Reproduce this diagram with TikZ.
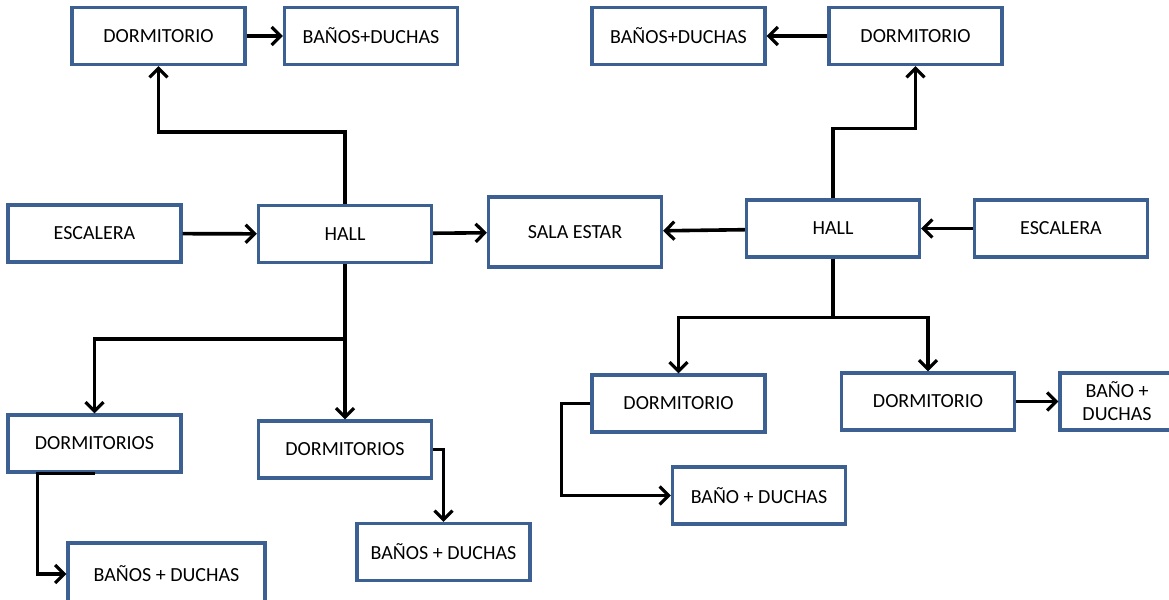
\documentclass[tikz,border=0pt]{standalone}
\usepackage{fontspec}
\setmainfont{Carlito}
\usepackage{xcolor}
\usepackage{tikz}
\usetikzlibrary{arrows.meta,positioning,calc}

\definecolor{boxblue}{RGB}{60,96,145}

\begin{document}
\begin{tikzpicture}[x=0.5pt, y=-0.5pt,
        box/.style={rectangle, draw=boxblue, line width=1.6pt, fill=white,
            minimum width=86.5pt, minimum height=28.5pt, inner sep=1pt,
            font=\fontsize{10}{11.5}\selectfont, align=center},
        arr/.style={-{Straight Barb[length=4.5pt, width=9pt, line width=1.6pt]}, line width=1.8pt}]
        \useasboundingbox (0,0) rectangle (1169,600);

        % Row 1
        \node (dormL) [box] at (158.5,36) {DORMITORIO};
        \node (banL) [box] at (371,36) {BAÑOS+DUCHAS};
        \node (banR) [box] at (678.5,36) {BAÑOS+DUCHAS};
        \node (dormR) [box] at (915.5,36) {DORMITORIO};

        % Row 2
        \node (escL) [box] at (94.5,233.5) {ESCALERA};
        \node (hallL) [box] at (345,234) {HALL};
        \node (sala) [box, minimum height=35pt] at (575,232) {SALA ESTAR};
        \node (hallR) [box] at (833,228.5) {HALL};
        \node (escR) [box] at (1061,228.5) {ESCALERA};

        % Row 3
        \node (dormsL) [box] at (94.5,443.5) {DORMITORIOS};
        \node (dormsM) [box] at (345,449.5) {DORMITORIOS};
        \node (dormR1) [box] at (678.5,403.5) {DORMITORIO};
        \node (dormR2) [box] at (928,401.5) {DORMITORIO};
        \node (banoR2) [box, minimum width=57pt] at (1117,401.5) {BAÑO +\\DUCHAS};

        % Row 4
        \node (banosL) [box, minimum width=98.5pt, minimum height=31pt] at (166.5,574) {BAÑOS + DUCHAS};
        \node (banosM) [box] at (443.5,552) {BAÑOS + DUCHAS};
        \node (banoR1) [box] at (759,495.5) {BAÑO + DUCHAS};

        % Arrows
        \draw[arr] (escL) -- (hallL);
        \draw[arr] (hallL) -- (sala);
        \draw[arr] (hallR) -- (sala);
        \draw[arr] (escR) -- (hallR);
        \draw[arr] (dormL) -- (banL);
        \draw[arr] (dormR) -- (banR);
        \draw[arr] (hallL.north) -- ++(0,-72) -| (dormL.south);
        \draw[arr] (hallR.north) -- ++(0,-70) -| (dormR.south);
        \draw[arr] (hallL.south) -- (dormsM.north);
        \draw[arr] (hallL.south) -- ++(0,75) -| (dormsL.north);
        \draw[arr] (hallR.south) -- ++(0,59) -| (dormR1.north);
        \draw[arr] (hallR.south) -- ++(0,59) -| (dormR2.north);
        \draw[arr] (dormsL.south) -- ++(-57,0) |- (banosL.west);
        \draw[arr] (dormsM.east) -| (banosM.north);
        \draw[arr] (dormR1.west) -- ++(-29,0) |- (banoR1.west);
        \draw[arr] (dormR2) -- (banoR2);
    \end{tikzpicture}
\end{document}
